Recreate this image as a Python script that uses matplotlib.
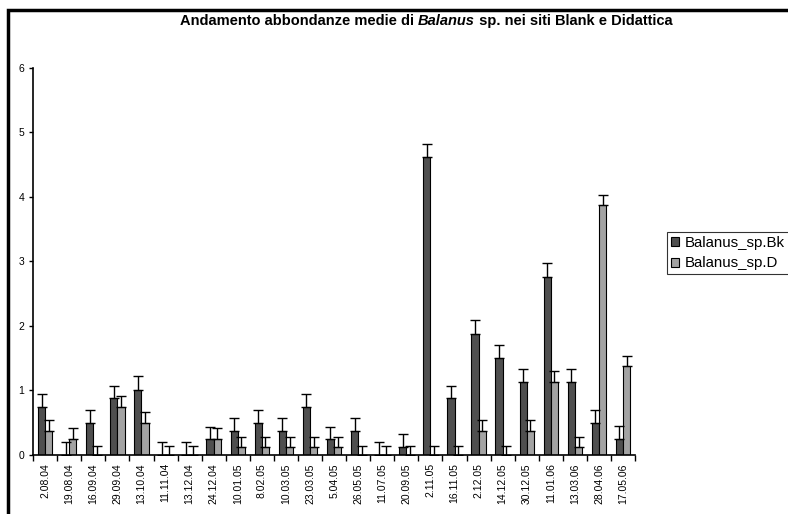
import numpy as np
import matplotlib.pyplot as plt
from matplotlib.patches import Rectangle

# Dati
date = ["2.08.04", "19.08.04", "16.09.04", "29.09.04", "13.10.04", "11.11.04",
        "13.12.04", "24.12.04", "10.01.05", "8.02.05", "10.03.05", "23.03.05",
        "5.04.05", "26.05.05", "11.07.05", "20.09.05", "2.11.05", "16.11.05",
        "2.12.05", "14.12.05", "30.12.05", "11.01.06", "13.03.06", "28.04.06",
        "17.05.06"]
bk = [0.75, 0, 0.5, 0.875, 1.0, 0, 0, 0.25, 0.375, 0.5, 0.375, 0.75, 0.25,
      0.375, 0, 0.125, 4.625, 0.875, 1.875, 1.5, 1.125, 2.75, 1.125, 0.5, 0.25]
bk_err = [0.2, 0.2, 0.2, 0.2, 0.22, 0.2, 0.2, 0.18, 0.2, 0.2, 0.2, 0.2, 0.18,
          0.2, 0.2, 0.2, 0.2, 0.2, 0.22, 0.2, 0.2, 0.22, 0.2, 0.2, 0.2]
d = [0.375, 0.25, 0, 0.75, 0.5, 0, 0, 0.25, 0.125, 0.125, 0.125, 0.125, 0.125,
     0, 0, 0, 0, 0, 0.375, 0, 0.375, 1.125, 0.125, 3.875, 1.375]
d_err = [0.16, 0.17, 0.14, 0.16, 0.16, 0.14, 0.14, 0.17, 0.15, 0.15, 0.15, 0.15,
         0.15, 0.14, 0.14, 0.14, 0.14, 0.14, 0.16, 0.14, 0.16, 0.17, 0.15, 0.16,
         0.16]

plt.rcParams["font.family"] = ["Liberation Sans", "DejaVu Sans"]

fig = plt.figure(figsize=(7.88, 5.14), dpi=100)
ax = fig.add_axes([0.042, 0.115, 0.764, 0.753])

x = np.arange(len(date))
w = 0.3
ax.bar(x - w/2, bk, w, color="#4f4f4f", edgecolor="black", linewidth=0.8,
       label="Balanus_sp.Bk")
ax.bar(x + w/2, d, w, color="#a3a3a3", edgecolor="black", linewidth=0.8,
       label="Balanus_sp.D")
ax.errorbar(x - w/2, bk, yerr=[np.zeros(len(bk)), bk_err], fmt="none",
            ecolor="black", elinewidth=1, capsize=3.5, capthick=1)
ax.errorbar(x + w/2, d, yerr=[np.zeros(len(d)), d_err], fmt="none",
            ecolor="black", elinewidth=1, capsize=3.5, capthick=1)

ax.set_xlim(-0.5, len(date) - 0.5)
ax.set_ylim(0, 6)
ax.set_yticks(range(7))
ax.tick_params(axis="y", labelsize=7.5, length=3, width=1)
ax.set_xticks(x)
ax.set_xticklabels(date, rotation=90, fontsize=7.5)
ax.set_xticks(np.arange(-0.5, len(date)), minor=True)
ax.tick_params(axis="x", which="major", length=0, pad=6)
ax.tick_params(axis="x", which="minor", length=4, width=1)
for s in ["top", "right"]:
    ax.spines[s].set_visible(False)
for s in ["left", "bottom"]:
    ax.spines[s].set_linewidth(1.2)

leg = ax.legend(loc="upper left", bbox_to_anchor=(1.053, 0.576), fontsize=10.8,
                frameon=True, fancybox=False, edgecolor="black",
                handlelength=0.55, handleheight=0.55, handletextpad=0.4,
                borderpad=0.25, labelspacing=0.45, borderaxespad=0)
leg.get_frame().set_linewidth(0.8)

# Titolo con "Balanus" in corsivo
fig.canvas.draw()
r = fig.canvas.get_renderer()
parts = [("Andamento abbondanze medie di ", "normal"),
         ("Balanus", "italic"),
         (" sp. nei siti Blank e Didattica", "normal")]
texts = [fig.text(0, 0, p, fontsize=10.5, fontweight="bold", style=st,
                  va="center") for p, st in parts]
widths = [t.get_window_extent(r).width for t in texts]
xpos = 426 - sum(widths) / 2
for t, wd in zip(texts, widths):
    t.set_position((xpos / 788, 1 - 21 / 514))
    xpos += wd

# Cornice
fig.patches.append(Rectangle((8 / 788, -0.05), 1.0, 1.05 - 10 / 514,
                             transform=fig.transFigure, fill=False,
                             edgecolor="black", linewidth=2.5))

fig.savefig("out.png", dpi=100)
